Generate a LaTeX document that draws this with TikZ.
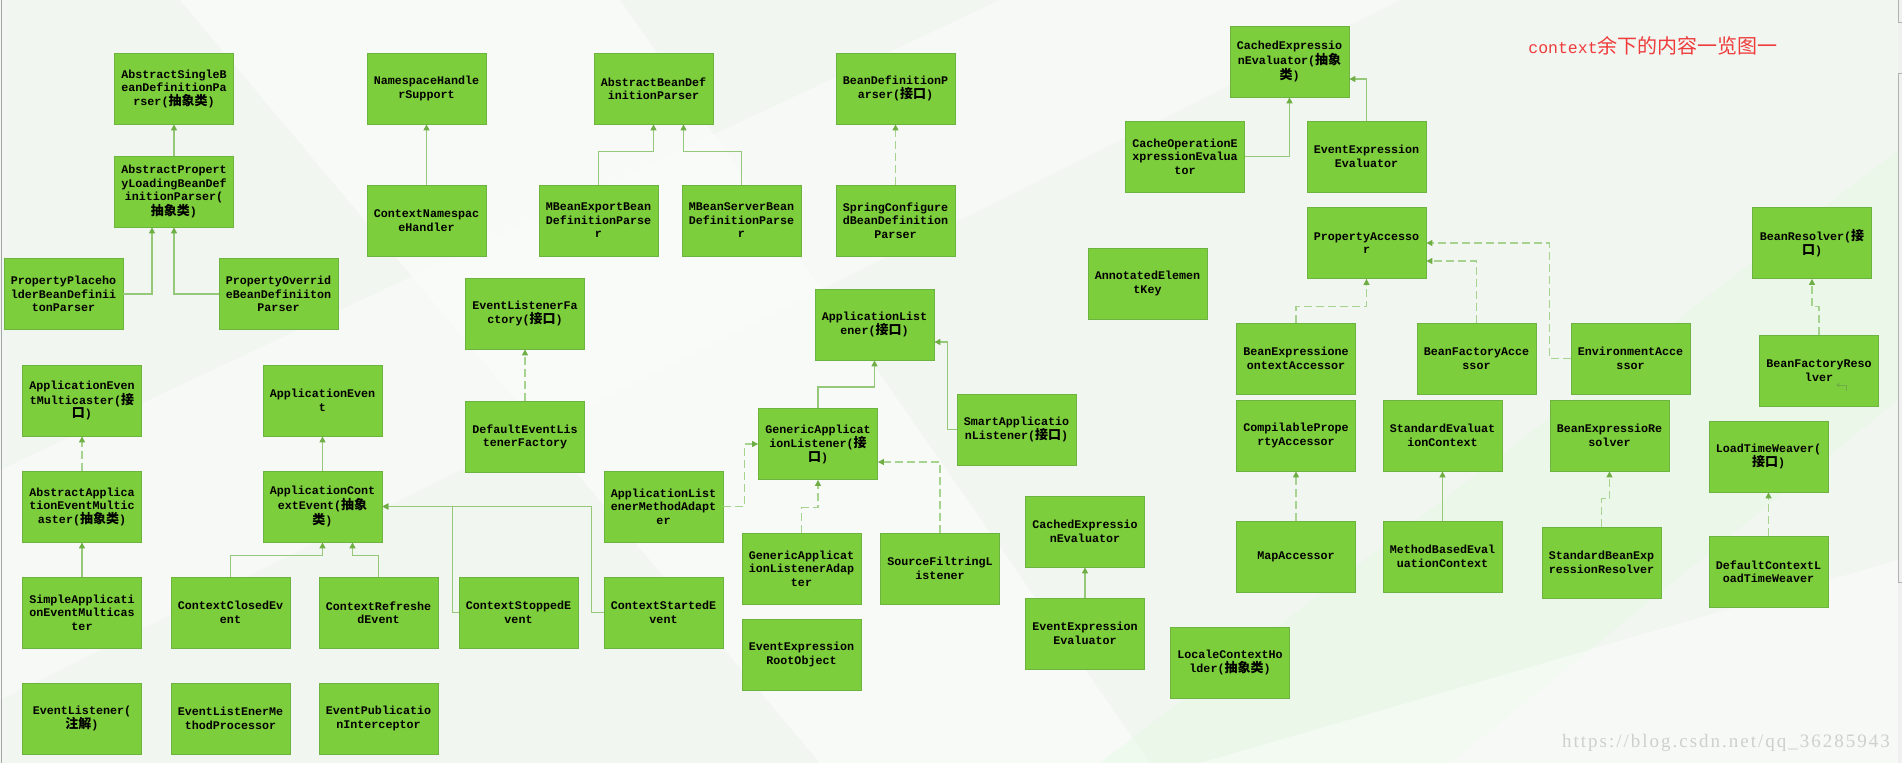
\documentclass[tikz,border=0pt]{standalone}
\usepackage{fontspec}
\usetikzlibrary{arrows.meta,calc}
\newfontfamily\boxfont{Liberation Mono}
\newfontfamily\cjkfont{Noto Sans CJK SC}
\newfontfamily\wmfont{Liberation Serif}[LetterSpace=10.5]
\newcommand\zhc[1]{{\cjkfont\fontsize{13}{13.5}\selectfont #1}}
\definecolor{bgclr}{HTML}{F2F6F1}
\definecolor{boxfill}{HTML}{7DCE3C}
\definecolor{boxline}{HTML}{6DB33F}
\definecolor{lineclr}{HTML}{95C979}
\definecolor{dlineclr}{HTML}{A6D38F}
\definecolor{tipclr}{HTML}{6EAE45}
\definecolor{titleclr}{HTML}{EE3B3B}
\definecolor{wmclr}{HTML}{CFCFCF}
\tikzset{
  box/.style={draw=boxline, line width=0.8pt, fill=boxfill, minimum width=119pt, minimum height=71pt,
    inner sep=0pt, align=center, text=black, font=\boxfont\bfseries\fontsize{11.7}{13.5}\selectfont},
  conn/.style={draw=lineclr, line width=1.3pt, -{Triangle[length=6pt,width=6pt,color=tipclr]}},
  dconn/.style={conn, draw=dlineclr, dash pattern=on 8pt off 4pt}
}
\begin{document}
\begin{tikzpicture}[x=1pt,y=-1pt]
\useasboundingbox (0,0) rectangle (1902,763);
% background
\fill[bgclr] (0,0) rectangle (1902,763);
\fill[white, opacity=0.45] (180,0) -- (620,0) -- (1150,763) -- (820,763) -- cycle;
\fill[white, opacity=0.35] (0,470) -- (1000,0) -- (1400,0) -- (0,700) -- cycle;
\fill[green!30!white, opacity=0.12] (1100,763) -- (1898,150) -- (1898,400) -- (1450,763) -- cycle;
\fill[white, opacity=0.4] (1200,763) -- (1898,560) -- (1898,763) -- cycle;
% window frame lines
\draw[gray!70, line width=1pt] (1,0) -- (1,763);
\fill[gray!12] (1898,0) rectangle (1902,763);
\draw[gray!60, line width=0.8pt] (1898,0) -- (1898,22) -- (1902,22);
\draw[gray!60, line width=0.8pt] (1902,73) -- (1898,73) -- (1898,582) -- (1902,582);

% title and watermark
\node[text=titleclr, inner sep=0pt] (title) at (1653,46)
  {{\boxfont\fontsize{16.5}{20}\selectfont context}{\cjkfont\fontsize{20}{20}\selectfont 余下的内容一览图一}};
\node[text=wmclr, inner sep=0pt, font=\wmfont\fontsize{19}{20}\selectfont] (wm) at (1726,743)
  {https://blog.csdn.net/qq\_36285943};

% nodes
\node[box] (asbdp) at (174,88.5) {AbstractSingleB\\eanDefinitionPa\\rser(\zhc{抽象类})};
\node[box] (aplbdp) at (174,191.5) {AbstractPropert\\yLoadingBeanDef\\initionParser(\\\zhc{抽象类})};
\node[box] (pph) at (63.5,294) {PropertyPlaceho\\lderBeanDefinii\\tonParser};
\node[box] (pobdp) at (278.5,294) {PropertyOverrid\\eBeanDefiniiton\\Parser};
\node[box] (nhs) at (426.5,88.5) {NamespaceHandle\\rSupport};
\node[box] (cnh) at (426.5,220.5) {ContextNamespac\\eHandler};
\node[box] (abdp) at (653.5,88.5) {AbstractBeanDef\\initionParser};
\node[box] (mbe) at (598.5,220.5) {MBeanExportBean\\DefinitionParse\\r};
\node[box] (mbs) at (741.5,220.5) {MBeanServerBean\\DefinitionParse\\r};
\node[box] (bdp) at (895.5,88.5) {BeanDefinitionP\\arser(\zhc{接口})};
\node[box] (scbdp) at (895.5,220.5) {SpringConfigure\\dBeanDefinition\\Parser};
\node[box] (elf) at (525,313.5) {EventListenerFa\\ctory(\zhc{接口})};
\node[box] (delf) at (525,437) {DefaultEventLis\\tenerFactory};
\node[box] (al) at (874.5,324.5) {ApplicationList\\ener(\zhc{接口})};
\node[box] (ceeabs) at (1289.5,61.5) {CachedExpressio\\nEvaluator(\zhc{抽象}\\\zhc{类})};
\node[box] (coee) at (1185,156.5) {CacheOperationE\\xpressionEvalua\\tor};
\node[box] (eeetop) at (1366.5,156.5) {EventExpression\\Evaluator};
\node[box] (pa) at (1366.5,243) {PropertyAccesso\\r};
\node[box] (aek) at (1147.5,283.5) {AnnotatedElemen\\tKey};
\node[box] (beca) at (1296,358.5) {BeanExpressione\\ontextAccessor};
\node[box] (bfa) at (1476.5,358.5) {BeanFactoryAcce\\ssor};
\node[box] (env) at (1630.5,358.5) {EnvironmentAcce\\ssor};
\node[box] (br) at (1812,243) {BeanResolver(\zhc{接}\\\zhc{口})};
\node[box] (bfr) at (1819,370.5) {BeanFactoryReso\\lver};
\node[box] (cpa) at (1296,435.5) {CompilablePrope\\rtyAccessor};
\node[box] (sec) at (1442.5,435.5) {StandardEvaluat\\ionContext};
\node[box] (ber) at (1609.5,435.5) {BeanExpressioRe\\solver};
\node[box] (ltw) at (1768.5,456.5) {LoadTimeWeaver(\\\zhc{接口})};
\node[box] (ma) at (1296,556.5) {MapAccessor};
\node[box] (mbec) at (1442.5,556.5) {MethodBasedEval\\uationContext};
\node[box] (sber) at (1601.5,562.5) {StandardBeanExp\\ressionResolver};
\node[box] (dcltw) at (1768.5,571.5) {DefaultContextL\\oadTimeWeaver};
\node[box] (sal) at (1016.5,429.5) {SmartApplicatio\\nListener(\zhc{接口})};
\node[box] (cee) at (1085,531.5) {CachedExpressio\\nEvaluator};
\node[box] (eee) at (1085,633.5) {EventExpression\\Evaluator};
\node[box] (lch) at (1230,662.5) {LocaleContextHo\\lder(\zhc{抽象类})};
\node[box] (gal) at (818,444) {GenericApplicat\\ionListener(\zhc{接}\\\zhc{口})};
\node[box] (alma) at (663.5,506.5) {ApplicationList\\enerMethodAdapt\\er};
\node[box] (gala) at (801.5,568.5) {GenericApplicat\\ionListenerAdap\\ter};
\node[box] (sfl) at (940,568.5) {SourceFiltringL\\istener};
\node[box] (eero) at (801.5,654.5) {EventExpression\\RootObject};
\node[box] (cstarted) at (663.5,612.5) {ContextStartedE\\vent};
\node[box] (cstopped) at (518.5,612.5) {ContextStoppedE\\vent};
\node[box] (aem) at (82,400.5) {ApplicationEven\\tMulticaster(\zhc{接}\\\zhc{口})};
\node[box] (aaem) at (82,506.5) {AbstractApplica\\tionEventMultic\\aster(\zhc{抽象类})};
\node[box] (saem) at (82,612.5) {SimpleApplicati\\onEventMulticas\\ter};
\node[box] (el) at (82,718.5) {EventListener(\\\zhc{注解})};
\node[box] (ae) at (322.5,400.5) {ApplicationEven\\t};
\node[box] (ace) at (322.5,506.5) {ApplicationCont\\extEvent(\zhc{抽象}\\\zhc{类})};
\node[box] (cclosed) at (230.5,612.5) {ContextClosedEv\\ent};
\node[box] (crefreshed) at (378.5,612.5) {ContextRefreshe\\dEvent};
\node[box] (elmp) at (230.5,718.5) {EventListEnerMe\\thodProcessor};
\node[box] (epi) at (378.5,718.5) {EventPublicatio\\nInterceptor};

% small cursor mark inside BeanFactoryResolver
\draw[tipclr, line width=0.8pt, -{Triangle[length=3pt,width=4pt]}] (1846,391) -- (1846,385) -- (1836,385);

% connectors
\draw[conn] (aplbdp.north) -- (asbdp.south);
\draw[conn] (pph.east) -| ($(aplbdp.south)+(-22,0)$);
\draw[conn] (pobdp.west) -| (aplbdp.south);
\draw[conn] (cnh.north) -- (nhs.south);
\draw[conn] (mbe.north) -- ++(0,-33) -| (abdp.south);
\draw[conn] (mbs.north) -- ++(0,-33) -| ($(abdp.south)+(30,0)$);
\draw[dconn] (scbdp.north) -- (bdp.south);
\draw[dconn] (delf.north) -- (elf.south);
\draw[conn] (coee.east) -| (ceeabs.south);
\draw[conn] (eeetop.north) |- ($(ceeabs.east)+(0,17.5)$);
\draw[dconn] (beca.north) -- ++(0,-16) -| (pa.south);
\draw[dconn] (bfa.north) |- ($(pa.east)+(0,18)$);
\draw[dconn] (env.west) -- ++(-21,0) |- (pa.east);
\draw[dconn] (bfr.north) -- ++(0,-28) -| (br.south);
\draw[dconn] (ma.north) -- (cpa.south);
\draw[conn] (mbec.north) -- (sec.south);
\draw[dconn] (sber.north) -- ++(0,-28) -| (ber.south);
\draw[dconn] (dcltw.north) -- (ltw.south);
\draw[conn] (eee.north) -- (cee.south);
\draw[conn] (sal.west) -- ++(-9,0) |- ($(al.east)+(0,17.5)$);
\draw[conn] (gal.north) -- ++(0,-21) -| (al.south);
\draw[dconn] (alma.east) -- ++(21,0) |- (gal.west);
\draw[dconn] (gala.north) -- ++(0,-25) -| (gal.south);
\draw[dconn] (sfl.north) |- ($(gal.east)+(0,18)$);
\draw[conn] (cstarted.west) -- ++(-12,0) |- (ace.east);
\draw[conn] (cstopped.west) -- ++(-6,0) |- (ace.east);
\draw[dconn] (aaem.north) -- (aem.south);
\draw[conn] (saem.north) -- (aaem.south);
\draw[conn] (ace.north) -- (ae.south);
\draw[conn] (cclosed.north) -- ++(0,-21) -| (ace.south);
\draw[conn] (crefreshed.north) -- ++(0,-21) -| ($(ace.south)+(30,0)$);
\end{tikzpicture}
\end{document}
